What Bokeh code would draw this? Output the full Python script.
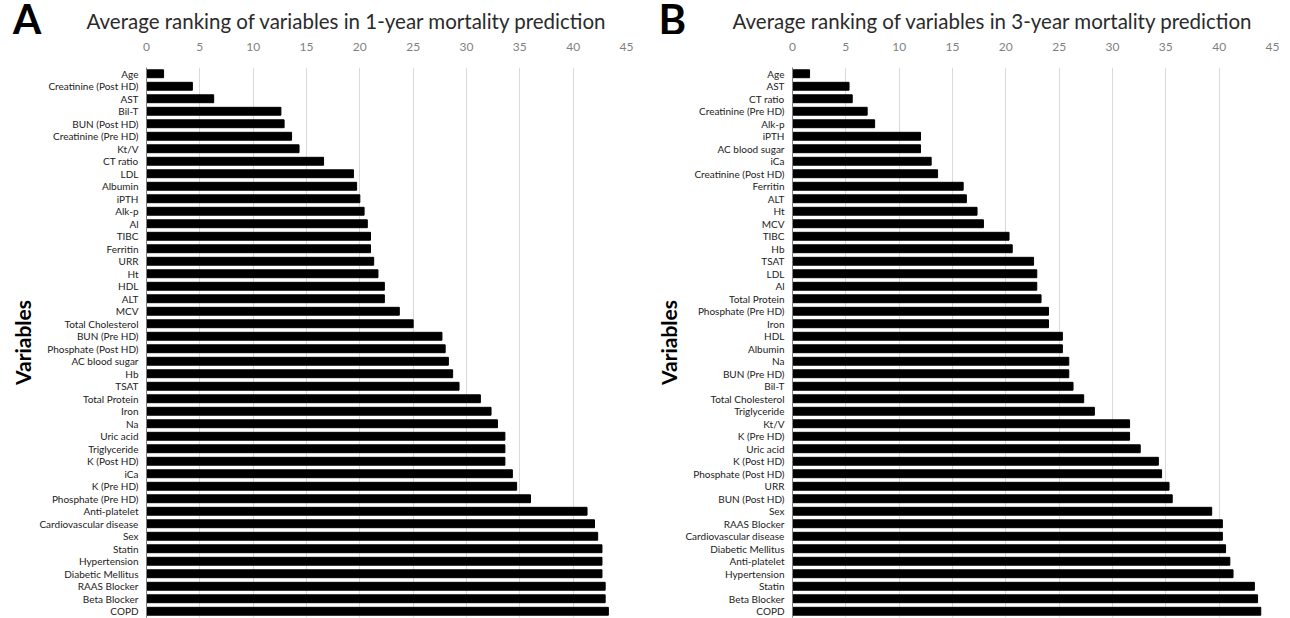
from bokeh.plotting import figure
from bokeh.layouts import row, column
from bokeh.models import FactorRange, Range1d, FixedTicker
from bokeh.core.properties import value
from bokeh.embed import file_html
from bokeh.resources import INLINE

# ---- Panel A: 1-year mortality ----
names_1y = ["Age", "Creatinine (Post HD)", "AST", "Bil-T", "BUN (Post HD)",
            "Creatinine (Pre HD)", "Kt/V", "CT ratio", "LDL", "Albumin", "iPTH",
            "Alk-p", "Al", "TIBC", "Ferritin", "URR", "Ht", "HDL", "ALT", "MCV",
            "Total Cholesterol", "BUN (Pre HD)", "Phosphate (Post HD)",
            "AC blood sugar", "Hb", "TSAT", "Total Protein", "Iron", "Na",
            "Uric acid", "Triglyceride", "K (Post HD)", "iCa", "K (Pre HD)",
            "Phosphate (Pre HD)", "Anti-platelet", "Cardiovascular disease", "Sex",
            "Statin", "Hypertension", "Diabetic Mellitus", "RAAS Blocker",
            "Beta Blocker", "COPD"]
rank_1y = [1.6, 4.3, 6.3, 12.6, 12.9, 13.6, 14.3, 16.6, 19.4, 19.7, 20.0,
           20.4, 20.7, 21.0, 21.0, 21.3, 21.7, 22.3, 22.3, 23.7,
           25.0, 27.7, 28.0, 28.3, 28.7, 29.3, 31.3, 32.3, 32.9,
           33.6, 33.6, 33.6, 34.3, 34.7, 36.0, 41.3, 42.0, 42.3,
           42.7, 42.7, 42.7, 43.0, 43.0, 43.3]

# ---- Panel B: 3-year mortality ----
names_3y = ["Age", "AST", "CT ratio", "Creatinine (Pre HD)", "Alk-p", "iPTH",
            "AC blood sugar", "iCa", "Creatinine (Post HD)", "Ferritin", "ALT",
            "Ht", "MCV", "TIBC", "Hb", "TSAT", "LDL", "Al", "Total Protein",
            "Phosphate (Pre HD)", "Iron", "HDL", "Albumin", "Na", "BUN (Pre HD)",
            "Bil-T", "Total Cholesterol", "Triglyceride", "Kt/V", "K (Pre HD)",
            "Uric acid", "K (Post HD)", "Phosphate (Post HD)", "URR",
            "BUN (Post HD)", "Sex", "RAAS Blocker", "Cardiovascular disease",
            "Diabetic Mellitus", "Anti-platelet", "Hypertension", "Statin",
            "Beta Blocker", "COPD"]
rank_3y = [1.6, 5.3, 5.6, 7.0, 7.7, 12.0, 12.0, 13.0, 13.6, 16.0, 16.3,
           17.3, 17.9, 20.3, 20.6, 22.6, 22.9, 22.9, 23.3, 24.0, 24.0,
           25.3, 25.3, 25.9, 25.9, 26.3, 27.3, 28.3, 31.6, 31.6, 32.6,
           34.3, 34.6, 35.3, 35.6, 39.3, 40.3, 40.3, 40.6, 41.0, 41.3,
           43.3, 43.6, 43.9]

x_ticks = [0, 5, 10, 15, 20, 25, 30, 35, 40, 45]
titles = ["Average ranking of variables in 1-year mortality prediction",
          "Average ranking of variables in 3-year mortality prediction"]
letters = ["A", "B"]
y_label = "Variables"

FONT = "Lato"
HEAD_H = 34
W = 645


def make_header(letter, title, frame_left):
    h = figure(width=W, height=HEAD_H, output_backend="svg", toolbar_location=None,
               x_range=Range1d(0, W), y_range=Range1d(0, HEAD_H),
               x_axis_type=None, y_axis_type=None,
               min_border_left=0, min_border_right=0,
               min_border_top=0, min_border_bottom=0)
    h.outline_line_color = None
    h.xgrid.grid_line_color = None
    h.ygrid.grid_line_color = None
    h.text(x=[frame_left - 134], y=[HEAD_H - 18], text=[letter],
           text_font=value(FONT), text_font_style="bold",
           text_font_size="42px", text_color="black",
           text_baseline="middle", text_align="left")
    h.text(x=[frame_left - 60], y=[HEAD_H - 20], text=[title],
           text_font=value(FONT), text_font_size="20.5px", text_color="#2b2b2b",
           text_baseline="middle", text_align="left")
    return h


def make_panel(names, values, bl, br):
    p = figure(width=W, height=618 - HEAD_H, output_backend="svg",
               toolbar_location=None,
               x_range=Range1d(0, 45), y_range=FactorRange(factors=names[::-1]),
               x_axis_location="above",
               min_border_left=bl, min_border_right=br,
               min_border_top=67 - HEAD_H, min_border_bottom=1)
    p.y_range.range_padding = 0
    p.outline_line_color = None
    p.hbar(y=names, right=values, left=0, height=0.63, color="black")

    xa = p.xaxis[0]
    xa.ticker = FixedTicker(ticks=x_ticks)
    xa.axis_line_color = None
    xa.major_tick_line_color = None
    xa.minor_tick_line_color = None
    xa.major_tick_out = 0
    xa.major_tick_in = 0
    xa.minor_tick_out = 0
    xa.major_label_standoff = 17
    xa.major_label_text_font = FONT
    xa.major_label_text_font_size = "12px"
    xa.major_label_text_color = "#7f7f7f"

    ya = p.yaxis[0]
    ya.axis_line_color = "#7f7f7f"
    ya.major_tick_line_color = None
    ya.minor_tick_line_color = None
    ya.major_tick_out = 0
    ya.major_tick_in = 0
    ya.minor_tick_out = 0
    ya.major_label_standoff = 8
    ya.major_label_text_font = FONT
    ya.major_label_text_font_size = "10px"
    ya.major_label_text_color = "#222222"
    ya.axis_label = y_label
    ya.axis_label_standoff = 1
    ya.axis_label_text_font = FONT
    ya.axis_label_text_font_style = "bold"
    ya.axis_label_text_font_size = "21px"
    ya.axis_label_text_color = "black"

    p.xgrid.grid_line_color = "#d9d9d9"
    p.xgrid.ticker = FixedTicker(ticks=x_ticks)
    p.ygrid.grid_line_color = None
    return p


ha = make_header(letters[0], titles[0], 146)
hb = make_header(letters[1], titles[1], 147)
pa = make_panel(names_1y, rank_1y, 146, 19)
pb = make_panel(names_3y, rank_3y, 147, 18)

layout = column(row(ha, hb, spacing=0), row(pa, pb, spacing=0), spacing=0)
open("out.html", "w").write(file_html(layout, INLINE))
